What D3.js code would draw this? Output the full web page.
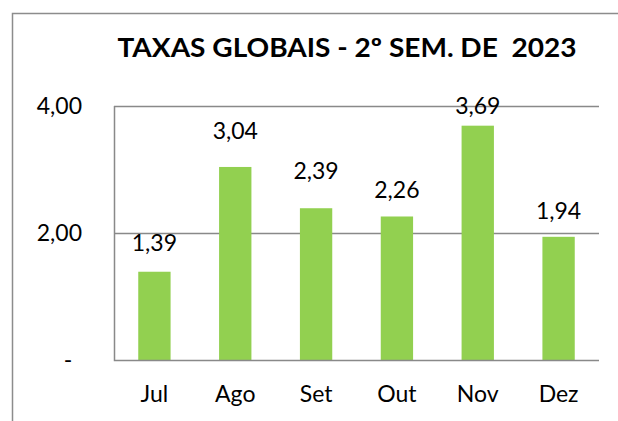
<!DOCTYPE html>
<html>
<head>
<meta charset="utf-8">
<script src="https://cdn.jsdelivr.net/npm/d3@7"></script>
<style>
  body { margin: 0; background: #fff; }
  svg { display: block; font-family: Lato, "Open Sans", sans-serif; }
</style>
</head>
<body>
<svg id="chart" width="618" height="421"></svg>
<script>
"use strict";

//// data
const months = ["Jul", "Ago", "Set", "Out", "Nov", "Dez"];
const rates = [1.39, 3.04, 2.39, 2.26, 3.69, 1.94];
const yTicks = [0, 2, 4];
const title = "TAXAS GLOBAIS - 2º SEM. DE  2023";

//// label placement (labels were hand-moved in the original)
const labelLift = [29, 36, 38, 27, 20, 26];

(function () {
    const svg = d3.select("#chart");
    const plot = { left: 114, right: 599, top: 106, bottom: 360 };
    const fmt = v => v === 0 ? "-" : d3.format(".2f")(v).replace(".", ",");
    const fontSize = 23;

    // chart frame (cropped on right and bottom)
    svg.append("path")
        .attr("d", "M12.5,421 V13.5 H618")
        .attr("fill", "none")
        .attr("stroke", "#8c8c8c")
        .attr("stroke-width", 1.5);

    svg.append("text")
        .attr("x", 347).attr("y", 57)
        .attr("text-anchor", "middle")
        .attr("font-weight", "bold")
        .attr("font-size", 26)
        .attr("textLength", 459)
        .attr("lengthAdjust", "spacingAndGlyphs")
        .attr("fill", "#000")
        .style("white-space", "pre")
        .text(title);

    const x = d3.scaleBand()
        .domain(months)
        .range([plot.left, plot.right])
        .paddingInner(0.6).paddingOuter(0.3);

    const y = d3.scaleLinear()
        .domain([0, 4])
        .range([plot.bottom, plot.top]);

    // gridlines
    svg.append("g")
        .selectAll("line")
        .data(yTicks.filter(d => d > 0))
        .join("line")
            .attr("x1", plot.left).attr("x2", plot.right)
            .attr("y1", d => Math.round(y(d)) + 0.5).attr("y2", d => Math.round(y(d)) + 0.5)
            .attr("stroke", "#898989")
            .attr("stroke-width", 1.5);

    // bars
    svg.append("g")
        .selectAll("rect")
        .data(rates)
        .join("rect")
            .attr("x", (d, i) => x(months[i]))
            .attr("y", d => y(d))
            .attr("width", x.bandwidth())
            .attr("height", d => y(0) - y(d))
            .attr("fill", "#92d050");

    // axes lines
    svg.append("path")
        .attr("d", "M" + (plot.left + 0.5) + "," + plot.top + " V" + (plot.bottom + 0.5) + " H" + plot.right)
        .attr("fill", "none")
        .attr("stroke", "#898989")
        .attr("stroke-width", 1.5);

    // y tick labels
    svg.append("g")
        .selectAll("text")
        .data(yTicks)
        .join("text")
            .attr("x", d => d === 0 ? 68 : 82)
            .attr("y", d => y(d))
            .attr("dy", "0.36em")
            .attr("text-anchor", d => d === 0 ? "middle" : "end")
            .attr("font-size", fontSize)
            .attr("fill", "#000")
            .text(fmt);

    // x labels
    svg.append("g")
        .selectAll("text")
        .data(months)
        .join("text")
            .attr("x", d => x(d) + x.bandwidth() / 2)
            .attr("y", 402)
            .attr("text-anchor", "middle")
            .attr("font-size", fontSize)
            .attr("fill", "#000")
            .text(d => d);

    // value labels
    svg.append("g")
        .selectAll("text")
        .data(rates)
        .join("text")
            .attr("x", (d, i) => x(months[i]) + x.bandwidth() / 2)
            .attr("y", (d, i) => y(d) - labelLift[i])
            .attr("dy", "0.36em")
            .attr("text-anchor", "middle")
            .attr("font-size", fontSize)
            .attr("fill", "#000")
            .text(fmt);
})();
</script>
</body>
</html>
